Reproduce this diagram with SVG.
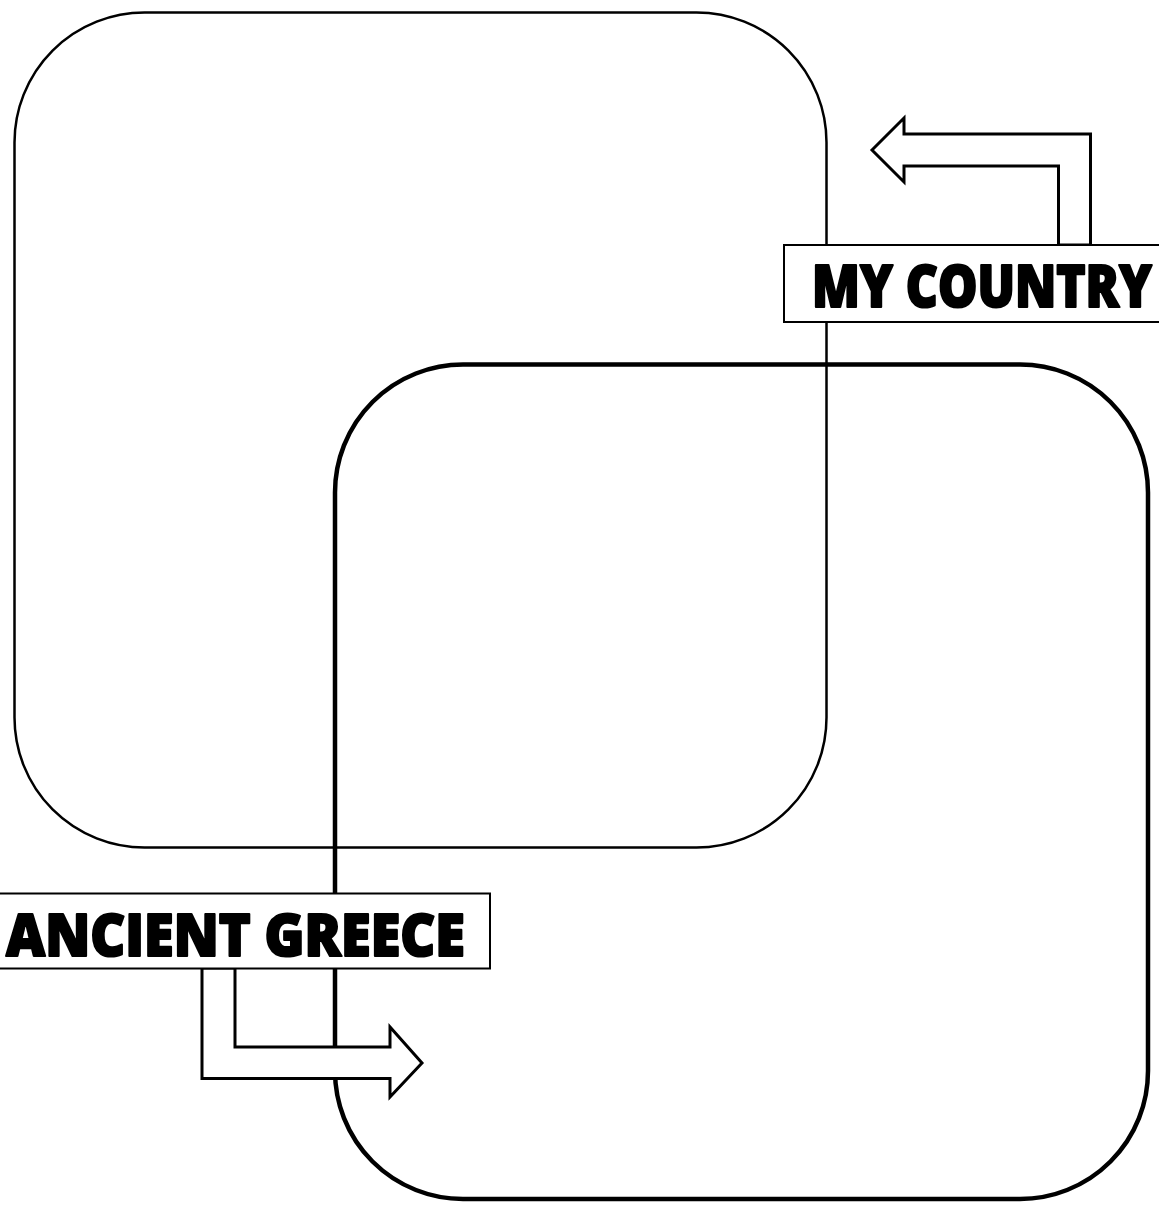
<svg xmlns="http://www.w3.org/2000/svg" width="1159" height="1215" viewBox="0 0 1159 1215">
<style>
.box{fill:none;stroke:#000}
.arrow{fill:#fff;stroke:#000;stroke-width:3;stroke-linejoin:miter}
.label{fill:#fff;stroke:#000;stroke-width:2}
.lt{font-family:"Open Sans","Lato","Liberation Sans",sans-serif;font-weight:800;font-size:58px;fill:#000;stroke:#000;stroke-width:2.2;stroke-linejoin:round}
</style>
<rect width="1159" height="1215" fill="#fff"/>
<g id="region-my-country">
<rect class="box" x="14.5" y="12.5" width="812" height="835" rx="130" ry="130" stroke-width="2.5"/>
</g>
<g id="region-ancient-greece">
<rect class="box" x="335" y="364.5" width="813" height="834.5" rx="128" ry="128" stroke-width="4.5"/>
</g>
<g id="connectors">
<polygon class="arrow" points="872,150 904,118 904,134 1090.5,134 1090.5,245 1058.5,245 1058.5,166 904,166 904,182"/>
<polygon class="arrow" points="202,968 235,968 235,1047 390,1047 390,1027 422,1063 390,1097 390,1078.5 202,1078.5"/>
</g>
<g id="label-my-country">
<rect class="label" x="784" y="245" width="390" height="77"/>
<text class="lt" x="812" y="307" textLength="340" lengthAdjust="spacingAndGlyphs">MY COUNTRY</text>
</g>
<g id="label-ancient-greece">
<rect class="label" x="-5" y="893.5" width="495" height="75"/>
<text class="lt" x="6" y="956" textLength="459" lengthAdjust="spacingAndGlyphs">ANCIENT GREECE</text>
</g>
</svg>
